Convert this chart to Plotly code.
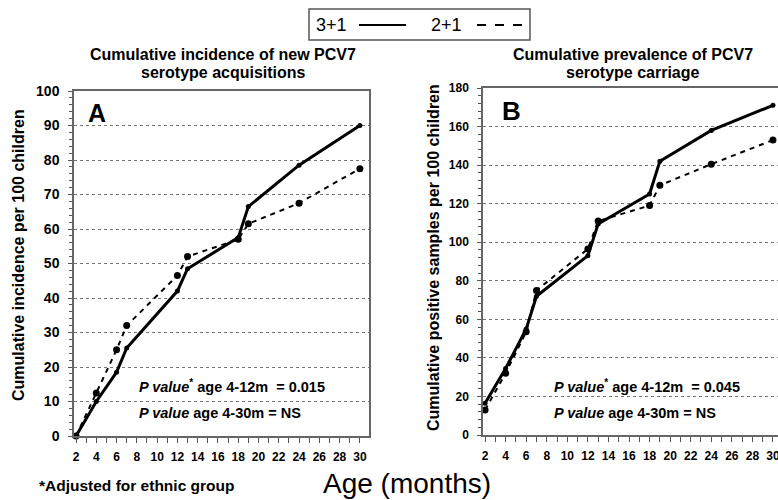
import plotly.graph_objects as go

W, H = 778, 500

# ---- data ----
months = [2, 4, 6, 7, 12, 13, 18, 19, 24, 30]
incidence_3p1 = [0, 10, 18.5, 25.5, 42, 48.5, 57.5, 66.5, 78.5, 90]
incidence_2p1 = [0, 12.5, 25, 32, 46.5, 52, 57, 61.5, 67.5, 77.5]
prevalence_3p1 = [16.5, 34.5, 55, 72, 93, 109.5, 125, 142, 158, 171]
prevalence_2p1 = [13, 32, 53.5, 75, 96.5, 111, 119, 129.5, 140.5, 153]

x_tickvals = list(range(2, 31))
x_ticktext = [str(v) if v % 2 == 0 else "" for v in x_tickvals]
yA_ticks = list(range(0, 101, 10))
yB_ticks = list(range(0, 181, 20))

FONT = "Liberation Sans, Arial, sans-serif"


def px(x):
    return x / W


def py(y):
    return 1 - y / H


fig = go.Figure()

for xa, ya, s31, s21 in [("x", "y", incidence_3p1, incidence_2p1),
                         ("x2", "y2", prevalence_3p1, prevalence_2p1)]:
    fig.add_trace(go.Scatter(x=months, y=s21, mode="lines+markers", name="2+1",
                             xaxis=xa, yaxis=ya, cliponaxis=False,
                             line=dict(color="black", width=2, dash="5px,5px"),
                             marker=dict(color="black", size=7)))
    fig.add_trace(go.Scatter(x=months, y=s31, mode="lines+markers", name="3+1",
                             xaxis=xa, yaxis=ya, cliponaxis=False,
                             line=dict(color="black", width=3),
                             marker=dict(color="black", size=5)))

xcommon = dict(tickvals=x_tickvals, ticktext=x_ticktext, ticks="outside", ticklen=5,
               tickcolor="#555", tickwidth=1.2, showgrid=False, zeroline=False,
               showline=True, linecolor="#666", linewidth=1.5, mirror=True,
               ticklabelstandoff=4, ticklabeloverflow="allow",
               tickfont=dict(family=FONT, size=12, color="black", weight="bold"))
ycommon = dict(ticks="outside", ticklen=4, tickcolor="#555", tickwidth=1.2,
               showgrid=True, gridcolor="#777", griddash="dot", gridwidth=1.2,
               zeroline=False, showline=True, linecolor="#666", linewidth=1.5, mirror=True,
               ticklabeloverflow="allow")

fig.update_layout(
    width=W, height=H, margin=dict(l=0, r=0, t=0, b=0, autoexpand=False),
    paper_bgcolor="white", plot_bgcolor="white", showlegend=False,
    xaxis=dict(domain=[px(74), px(369)], range=[1.8, 30.9], anchor="y", **xcommon),
    yaxis=dict(domain=[py(436), py(91)], range=[0, 100], tickvals=yA_ticks, anchor="x",
               minor=dict(dtick=2, ticks="outside", ticklen=3, tickcolor="#555", showgrid=False),
               ticklabelstandoff=6,
               tickfont=dict(family=FONT, size=14, color="black", weight="bold"), **ycommon),
    xaxis2=dict(domain=[px(483), 1.0], range=[1.8, 30.49], anchor="y2", **xcommon),
    yaxis2=dict(domain=[py(435), py(88)], range=[0, 180], tickvals=yB_ticks, anchor="x2",
                minor=dict(dtick=4, ticks="outside", ticklen=3, tickcolor="#555", showgrid=False),
                ticklabelstandoff=6,
                tickfont=dict(family=FONT, size=12, color="black", weight="bold"), **ycommon),
)

ann = []


def text(x, y, t, size, bold=True, angle=0, xanchor="center", **kw):
    ann.append(dict(x=px(x), y=py(y), xref="paper", yref="paper", text=t, showarrow=False,
                    xanchor=xanchor, yanchor="middle", textangle=angle,
                    font=dict(family=FONT, size=size, color="black",
                              weight="bold" if bold else "normal"), **kw))


# panel titles
text(223, 55, "Cumulative incidence of new PCV7", 16)
text(223, 72, "serotype acquisitions", 16)
text(633, 55, "Cumulative prevalence of PCV7", 16)
text(633, 72, "serotype carriage", 16)
# panel letters
text(97, 113, "A", 25)
text(512, 111, "B", 26)
# y titles
text(18, 255, "Cumulative incidence per 100 children", 16, angle=-90)
text(433, 258, "Cumulative positive samples per 100 children", 16, angle=-90)
# p-values
text(137, 386, "<i>P value</i><sup>*</sup> age 4-12m  = 0.015", 14.5, xanchor="left")
text(137, 413, "<i>P value</i> age 4-30m = NS", 14.5, xanchor="left")
text(552, 386, "<i>P value</i><sup>*</sup> age 4-12m  = 0.045", 14.5, xanchor="left")
text(552, 413, "<i>P value</i> age 4-30m = NS", 14.5, xanchor="left")
# footers
text(37, 485, "*Adjusted for ethnic group", 15.5, xanchor="left")
text(407, 483, "Age (months)", 28, bold=False)
# legend texts
text(331, 25, "3+1", 18, bold=False)
text(447, 25, "2+1", 18, bold=False)
fig.update_layout(annotations=ann)

shapes = [
    # white boxes that interrupt gridlines behind the p-value text
    dict(type="rect", xref="paper", yref="paper", layer="between",
         x0=px(128), x1=px(336), y0=py(374), y1=py(425),
         fillcolor="white", line=dict(width=0)),
    dict(type="rect", xref="paper", yref="paper", layer="between",
         x0=px(543), x1=px(770), y0=py(374), y1=py(425),
         fillcolor="white", line=dict(width=0)),
    # legend box
    dict(type="rect", xref="paper", yref="paper", x0=px(309), x1=px(530), y0=py(9), y1=py(40),
         line=dict(color="#555", width=1.5)),
    dict(type="line", xref="paper", yref="paper", x0=px(359), x1=px(406), y0=py(25), y1=py(25),
         line=dict(color="black", width=2)),
]
for a, b in [(477, 486), (495, 504), (513, 522)]:
    shapes.append(dict(type="line", xref="paper", yref="paper", x0=px(a), x1=px(b),
                       y0=py(25), y1=py(25), line=dict(color="black", width=2)))
fig.update_layout(shapes=shapes)

fig.write_html("out.html", config={"displayModeBar": False},
               post_script="document.body.style.margin='0';")
